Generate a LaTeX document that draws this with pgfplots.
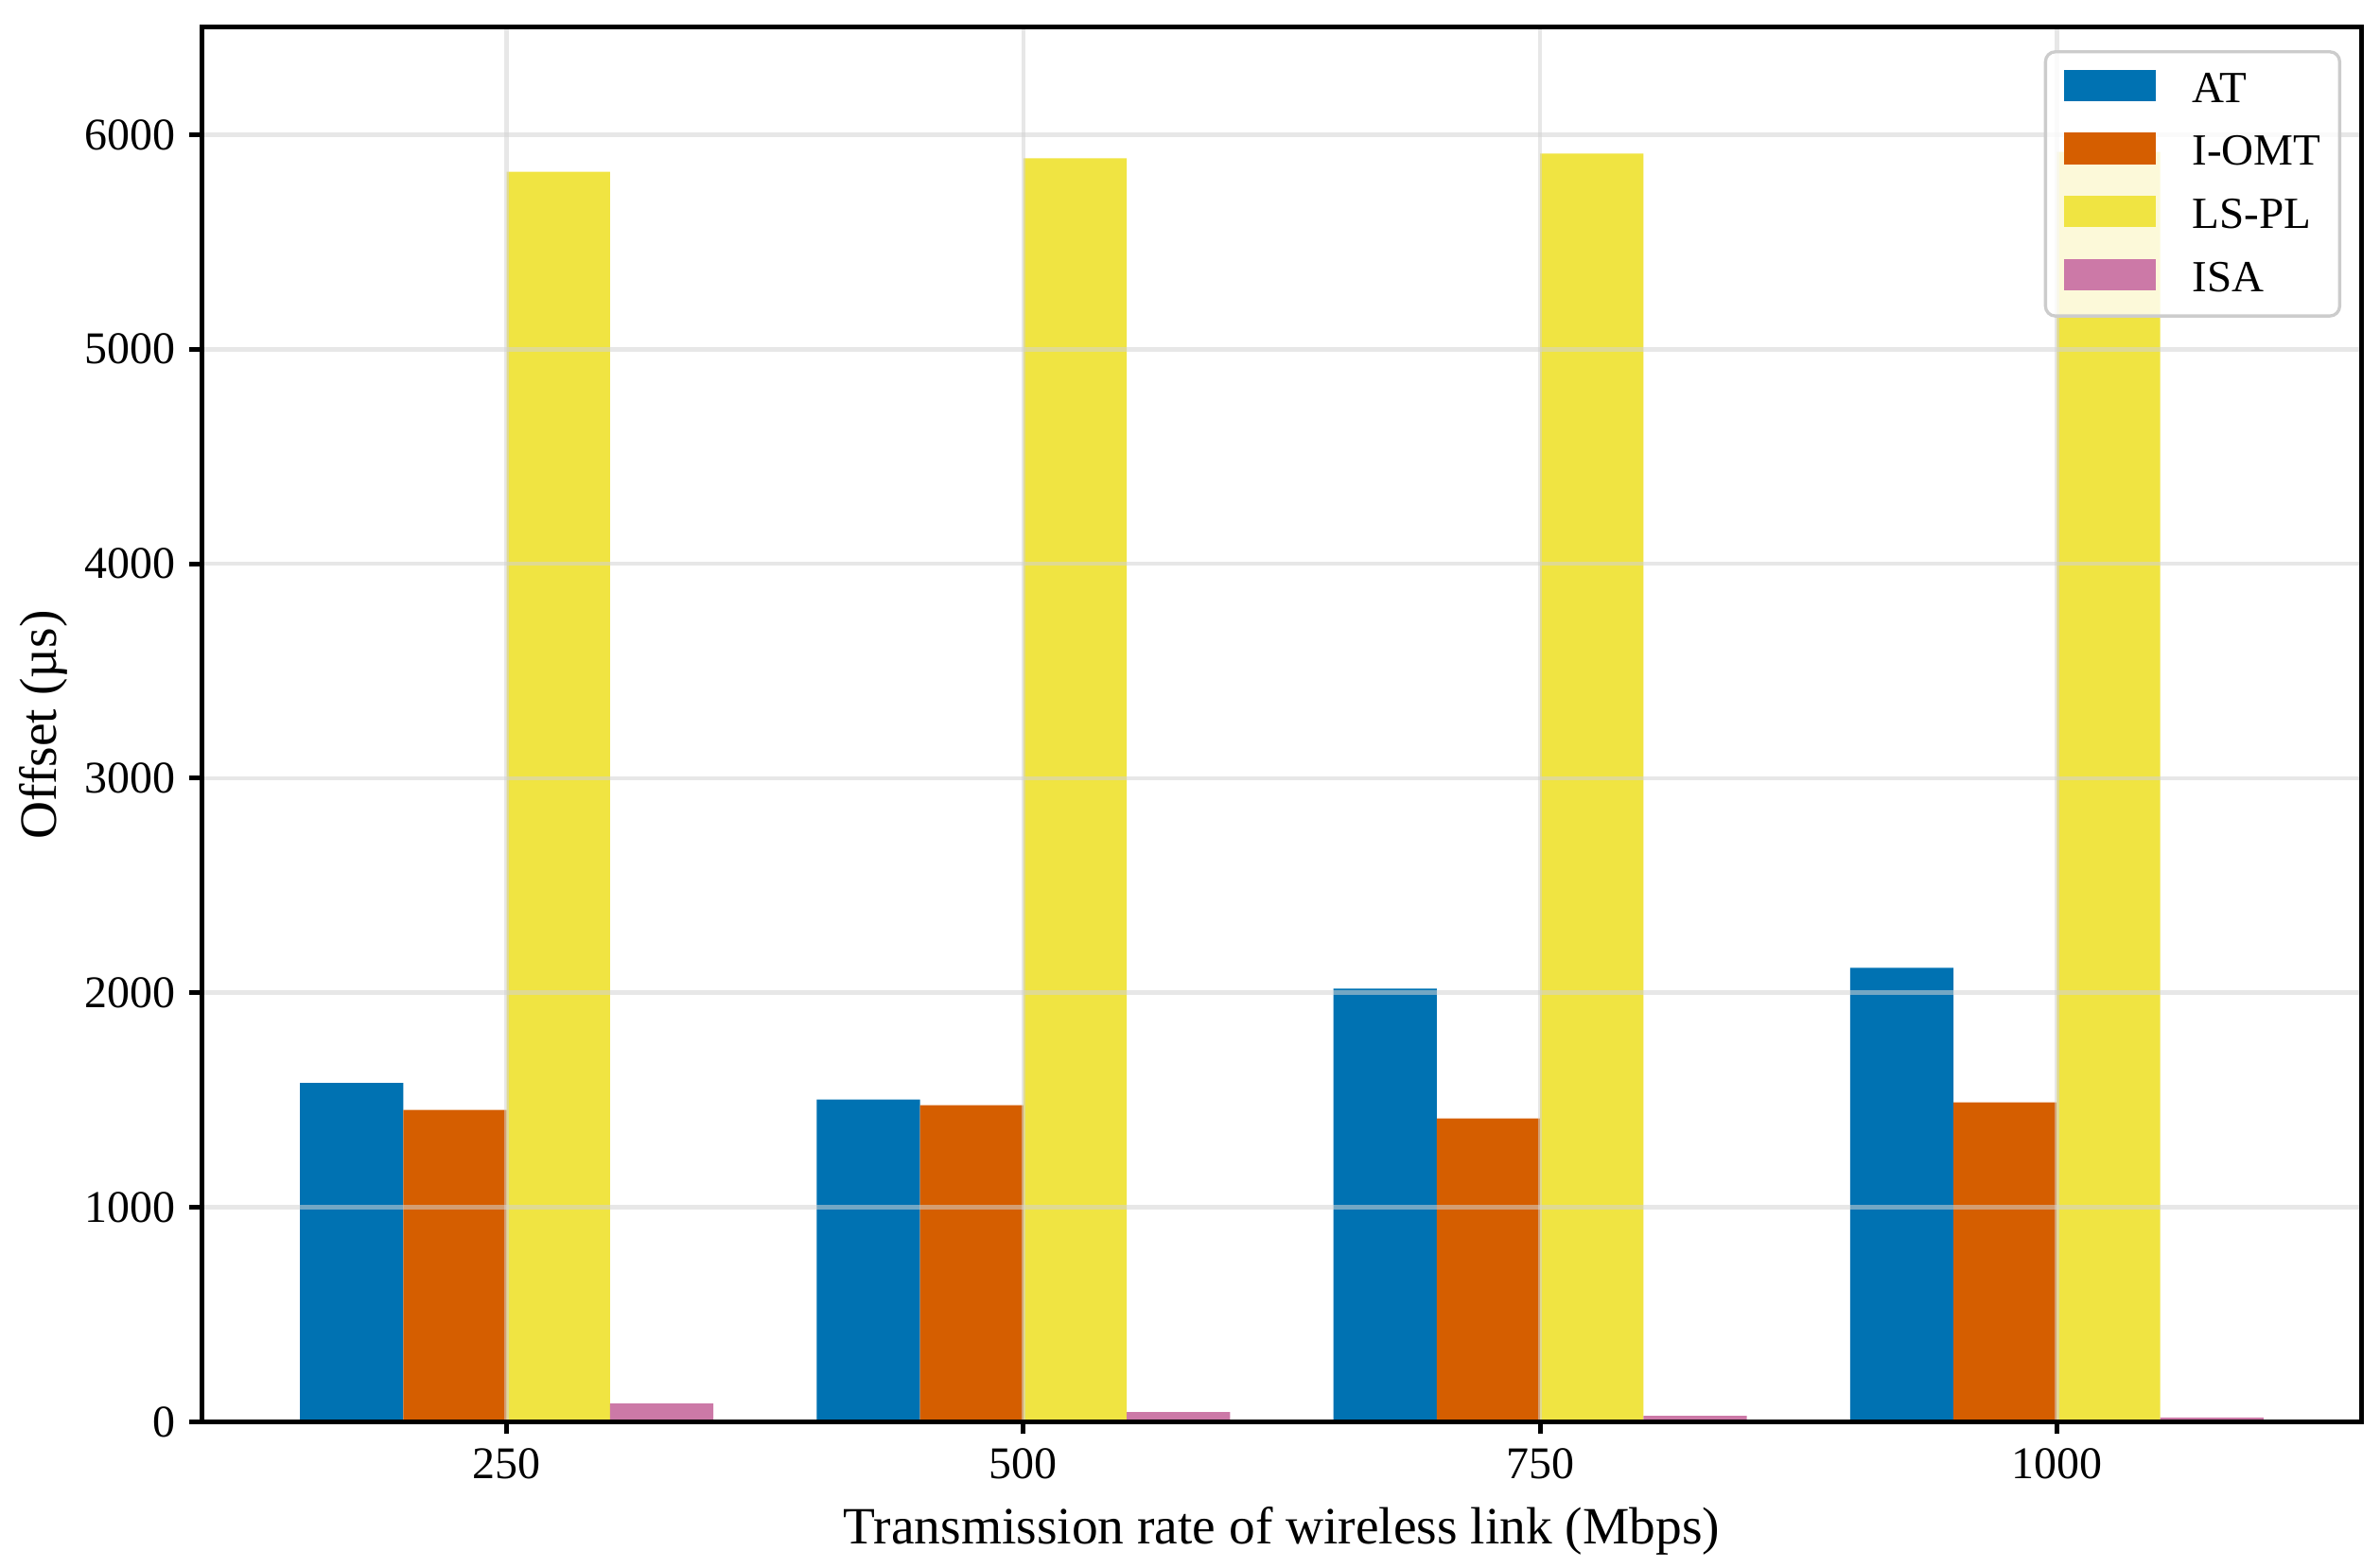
\documentclass[border=0pt]{standalone}
\usepackage{fontspec}
\setmainfont{Liberation Serif}
\usepackage{pgfplots}
\pgfplotsset{compat=1.18}
\definecolor{cAT}{RGB}{0,114,178}
\definecolor{cIO}{RGB}{213,94,0}
\definecolor{cLS}{RGB}{240,228,66}
\definecolor{cISA}{RGB}{204,121,167}
\definecolor{gridc}{RGB}{211,211,211}
\definecolor{legc}{RGB}{204,204,204}
\begin{document}
\begin{tikzpicture}
\useasboundingbox (-51.2pt,-37.08pt) rectangle (552.64pt,360.84pt);
\begin{axis}[
  at={(0pt,0pt)}, anchor=south west,
  scale only axis,
  width=548pt, height=353.9pt,
  xmin=-0.59, xmax=3.59,
  ymin=0, ymax=6500,
  xtick={0,1,2,3},
  xticklabels={250,500,750,1000},
  ytick={0,1000,2000,3000,4000,5000,6000},
  scaled ticks=false,
  /pgf/number format/assume math mode=true,
  /pgf/number format/set thousands separator={},
  tick label style={font=\fontsize{11.5}{13}\selectfont, black},
  label style={font=\fontsize{13.3}{16}\selectfont},
  xtick pos=lower, ytick pos=left,
  tick align=outside,
  major tick length=3.1pt,
  tick style={black, line width=1.2pt},
  axis line style={black, line width=1.2pt},
  grid=major,
  major grid style={gridc, line width=1.1pt, opacity=0.55},
  axis on top,
  xlabel={Transmission rate of wireless link (Mbps)},
  ylabel={Offset (µs)},
  xlabel style={at={(axis description cs:0.5,-0.078)}, anchor=center},
  ylabel style={at={(axis description cs:-0.0735,0.5)}, anchor=center, rotate=0},
  ybar, bar width=0.2,
  legend cell align=left,
  legend image code/.code={\fill[#1, draw=none, sharp corners, fill opacity=1] (0pt,-2.8pt) rectangle (23.3pt,5.2pt);},
  legend style={
    at={(rel axis cs:1,1)}, xshift=-5.2pt, yshift=-5.8pt, anchor=north east,
    draw=legc, line width=0.8pt, rounded corners=2.5pt,
    fill=white, fill opacity=0.8, text opacity=1,
    inner xsep=4.8pt, inner ysep=4.5pt,
    row sep=5.95pt, column sep=9.1pt,
    font=\fontsize{11.3}{13}\selectfont,
    nodes={inner sep=0pt, text height=8pt, text depth=1.7pt},
  },
]
\addplot[fill=cAT, draw=none, bar shift=-0.3] coordinates {(0,1580) (1,1503) (2,2019) (3,2116)};
\addlegendentry{AT}
\addplot[fill=cIO, draw=none, bar shift=-0.1] coordinates {(0,1454) (1,1476) (2,1414) (3,1489)};
\addlegendentry{I-OMT}
\addplot[fill=cLS, draw=none, bar shift=0.1] coordinates {(0,5827) (1,5890) (2,5912) (3,5920)};
\addlegendentry{LS-PL}
\addplot[fill=cISA, draw=none, bar shift=0.3] coordinates {(0,86) (1,46) (2,28) (3,20)};
\addlegendentry{ISA}
\end{axis}
\end{tikzpicture}
\end{document}
